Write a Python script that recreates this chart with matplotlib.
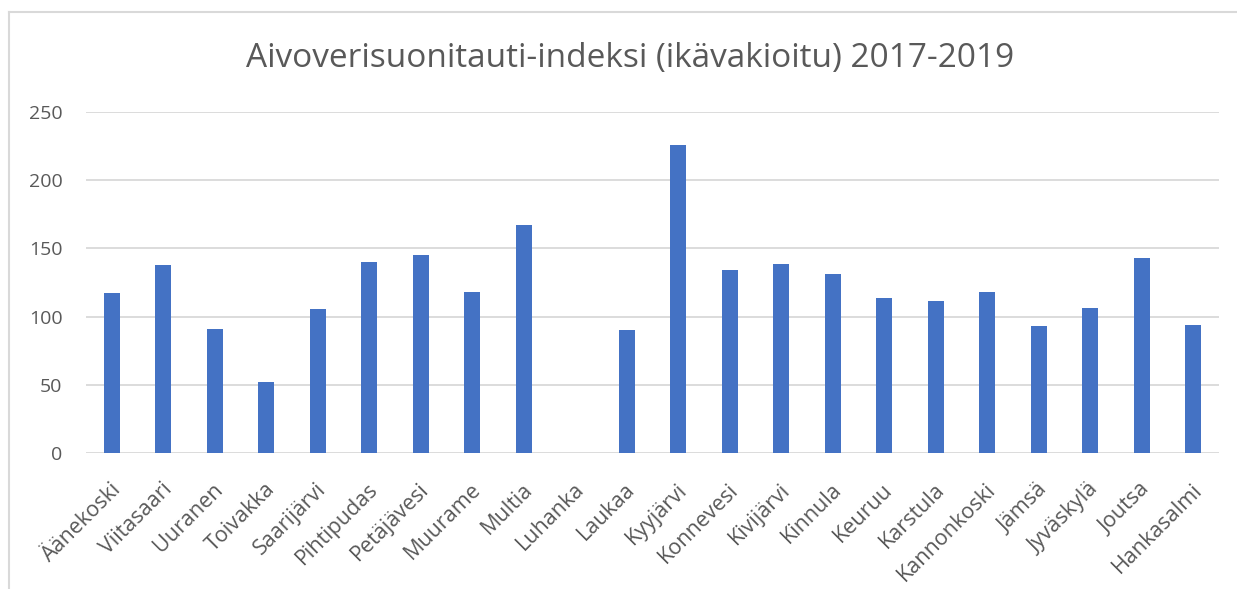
import matplotlib
matplotlib.use("Agg")
import matplotlib.pyplot as plt
from matplotlib.lines import Line2D
from matplotlib.transforms import ScaledTranslation

municipalities = [
    "Äänekoski", "Viitasaari", "Uuranen", "Toivakka", "Saarijärvi",
    "Pihtipudas", "Petäjävesi", "Muurame", "Multia", "Luhanka", "Laukaa",
    "Kyyjärvi", "Konnevesi", "Kivijärvi", "Kinnula", "Keuruu", "Karstula",
    "Kannonkoski", "Jämsä", "Jyväskylä", "Joutsa", "Hankasalmi",
]
index_values = [
    117.3, 137.6, 90.8, 52.2, 105.5,
    140.0, 145.2, 118.0, 167.0, 0.0, 90.3,
    226.0, 134.4, 138.4, 131.3, 113.6, 111.4,
    117.8, 92.8, 106.3, 142.8, 93.8,
]
y_ticks = [0, 50, 100, 150, 200, 250]
title = "Aivoverisuonitauti-indeksi (ikävakioitu) 2017-2019"

plt.rcParams["font.family"] = ["Open Sans", "DejaVu Sans"]
text_grey = "#595959"
bar_blue = "#4472C4"

W, H = 1237, 589
fig = plt.figure(figsize=(W / 100, H / 100), dpi=100)
ax = fig.add_axes([86 / W, 1 - 452.7 / H, (1219 - 86) / W, (452.7 - 112.3) / H])

x = range(len(municipalities))
ax.bar(x, index_values, width=0.31, color=bar_blue, zorder=3)

ax.set_xlim(-0.5, len(municipalities) - 0.5)
ax.set_ylim(0, 250)
ax.set_yticks(y_ticks)
ax.set_yticklabels([str(v) for v in y_ticks], fontsize=14, color=text_grey)
ax.set_xticks(list(x))
ax.set_xticklabels(municipalities, rotation=45, ha="right", rotation_mode="anchor",
                   fontsize=15.5, color=text_grey)
ax.tick_params(axis="both", length=0)
ax.tick_params(axis="y", pad=17)
ax.tick_params(axis="x", pad=19)
# nudge the slanted category labels a touch to the left
shift = ScaledTranslation(-2 / 100, 0, fig.dpi_scale_trans)
for lbl in ax.get_xticklabels():
    lbl.set_transform(lbl.get_transform() + shift)
ax.grid(axis="y", color="#D9D9D9", linewidth=1.3, zorder=0)
for s in ax.spines.values():
    s.set_visible(False)

fig.text(630 / W, 1 - 58 / H, title, ha="center", va="center",
         fontsize=24, color=text_grey)

# chart frame: only its left and top edges fall inside the image
frame = dict(transform=fig.transFigure, color="#D9D9D9", linewidth=1.5)
fig.lines.append(Line2D([8.5 / W, 8.5 / W], [0, 1 - 11.7 / H], **frame))
fig.lines.append(Line2D([8.5 / W, 1], [1 - 11.7 / H, 1 - 11.7 / H], **frame))

fig.savefig("out.png", dpi=100)
